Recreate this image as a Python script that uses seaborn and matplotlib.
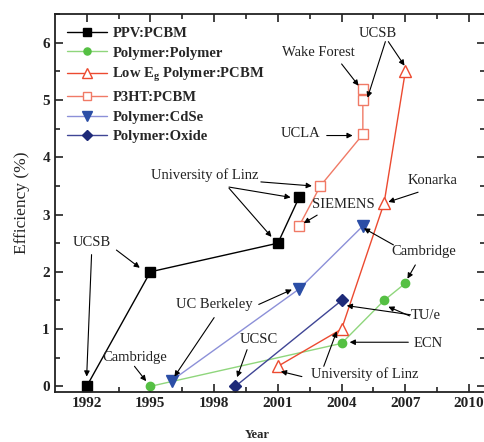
import seaborn as sns
import matplotlib.pyplot as plt
import pandas as pd

# dane: rok i sprawnosc (%) dla kazdej serii
ppv_year = [1992, 1995, 2001, 2002]
ppv_eff = [0.0, 2.0, 2.5, 3.3]

polpol_year = [1995, 2004, 2006, 2007]
polpol_eff = [0.0, 0.75, 1.5, 1.8]

loweg_year = [2001, 2004, 2006, 2007]
loweg_eff = [0.35, 1.0, 3.2, 5.5]

p3ht_year = [2002, 2003, 2005, 2005, 2005]
p3ht_eff = [2.8, 3.5, 4.4, 5.0, 5.2]

cdse_year = [1996, 2002, 2005]
cdse_eff = [0.1, 1.7, 2.8]

oxide_year = [1999, 2004]
oxide_eff = [0.0, 1.5]

series_names = ['PPV:PCBM', 'Polymer:Polymer', 'Low E$_\\mathregular{g}$ Polymer:PCBM',
                'P3HT:PCBM', 'Polymer:CdSe', 'Polymer:Oxide']

# tekst, pozycja tekstu, strzalki (start, koniec) - wspolrzedne danych
annotations = [
    ('UCSB', (1992.25, 2.52), [((1992.23, 2.30), (1992.0, 0.17)), ((1993.4, 2.38), (1994.5, 2.07))]),
    ('Cambridge', (1994.25, 0.50), [((1994.25, 0.35), (1994.8, 0.09))]),
    ('UC Berkeley', (1998.0, 1.43), [((1998.0, 1.20), (1996.13, 0.17)), ((2000.1, 1.43), (2001.66, 1.69))]),
    ('UCSC', (2000.1, 0.82), [((1999.55, 0.64), (1999.08, 0.16))]),
    ('University of Linz', (1997.55, 3.69), [((2000.2, 3.57), (2002.6, 3.50)),
                                             ((1998.7, 3.48), (2001.6, 3.30)),
                                             ((1998.7, 3.46), (2000.7, 2.61))]),
    ('SIEMENS', (2004.1, 3.18), [((2002.85, 2.99), (2002.22, 2.85))]),
    ('Wake Forest', (2002.92, 5.83), [((2004.0, 5.63), (2004.8, 5.25))]),
    ('UCSB', (2005.69, 6.17), [((2006.06, 6.02), (2005.22, 5.04)), ((2006.2, 6.02), (2006.96, 5.60))]),
    ('UCLA', (2002.08, 4.42), [((2003.3, 4.38), (2004.52, 4.38))]),
    ('Konarka', (2008.3, 3.60), [((2007.6, 3.39), (2006.2, 3.22))]),
    ('Cambridge', (2007.85, 2.35), [((2006.44, 2.47), (2005.05, 2.76)), ((2007.47, 2.12), (2007.1, 1.88))]),
    ('TU/e', (2007.94, 1.23), [((2007.24, 1.25), (2004.24, 1.41)), ((2007.2, 1.23), (2006.2, 1.39))]),
    ('ECN', (2008.08, 0.75), [((2007.14, 0.77), (2004.38, 0.77))]),
    ('University of Linz', (2005.08, 0.21), [((2002.13, 0.17), (2001.14, 0.26)),
                                             ((2003.16, 0.35), (2003.77, 0.96))]),
]

sns.set_theme(style="ticks")
plt.rcParams['font.family'] = ['Liberation Serif', 'DejaVu Serif']
plt.rcParams['mathtext.default'] = 'regular'

fig = plt.figure(figsize=(4.85, 4.42), dpi=100)
ax = fig.add_axes([0.113, 0.113, 0.887, 0.855])

# styl kazdej serii
styles = [
    dict(marker='s', markersize=6.5, mfc='black', mec='black', line='black'),
    dict(marker='o', markersize=6, mfc='#55c043', mec='#55c043', line='#8fd67c'),
    dict(marker='^', markersize=8, mfc='white', mec='#ec4a30', line='#ec4a30'),
    dict(marker='s', markersize=6.5, mfc='white', mec='#f07a66', line='#f07a66'),
    dict(marker='v', markersize=8, mfc='#2b4ea6', mec='#2b4ea6', line='#8c90d8'),
    dict(marker='D', markersize=6, mfc='#1e2a78', mec='#1e2a78', line='#3f4595'),
]
all_data = [(ppv_year, ppv_eff), (polpol_year, polpol_eff), (loweg_year, loweg_eff),
            (p3ht_year, p3ht_eff), (cdse_year, cdse_eff), (oxide_year, oxide_eff)]

for name, (yr, ef), st in zip(series_names, all_data, styles):
    df = pd.DataFrame({'Year': yr, 'Eff': ef})
    sns.lineplot(data=df, x='Year', y='Eff', ax=ax, estimator=None, sort=False,
                 color=st['line'], lw=1.0, marker=st['marker'], markersize=st['markersize'],
                 markerfacecolor=st['mfc'], markeredgecolor=st['mec'], markeredgewidth=1.0,
                 label=name)

for label, pos, arrows in annotations:
    ax.text(pos[0], pos[1], label, fontsize=10.5, ha='center', va='center', color='#222222')
    for start, end in arrows:
        ax.annotate('', xy=end, xytext=start,
                    arrowprops=dict(arrowstyle='-|>', color='black', lw=0.8, mutation_scale=8,
                                    shrinkA=0, shrinkB=0))

ax.set_xlim(1990.5, 2010.75)
ax.set_ylim(-0.1, 6.5)
ax.set_xticks([1992, 1995, 1998, 2001, 2004, 2007, 2010])
ax.set_xticks([1993.5, 1996.5, 1999.5, 2002.5, 2005.5, 2008.5], minor=True)
ax.set_yticks([0, 1, 2, 3, 4, 5, 6])
ax.set_yticks([0.5, 1.5, 2.5, 3.5, 4.5, 5.5, 6.5], minor=True)
ax.tick_params(which='both', direction='in', top=True, right=True, width=1.2, colors='#222222')
ax.tick_params(which='major', length=6, labelsize=11)
ax.tick_params(which='minor', length=3.5)
for lab in ax.get_xticklabels() + ax.get_yticklabels():
    lab.set_fontweight('bold')
for sp in ax.spines.values():
    sp.set_linewidth(1.3)
    sp.set_color('#222222')

ax.set_xlabel('Year', fontsize=9, fontweight='bold')
ax.set_ylabel('Efficiency (%)', fontsize=12.5)
ax.xaxis.set_label_coords(0.47, -0.097)
ax.yaxis.set_label_coords(-0.058, 0.5)

leg = ax.legend(loc='upper left', bbox_to_anchor=(0.0, 1.0), frameon=False, handlelength=2.7,
                prop={'weight': 'bold', 'size': 10.5}, labelspacing=0.45, borderaxespad=0.45,
                handletextpad=0.4, markerscale=0.85)

plt.savefig('out.png', dpi=100)
plt.close()
